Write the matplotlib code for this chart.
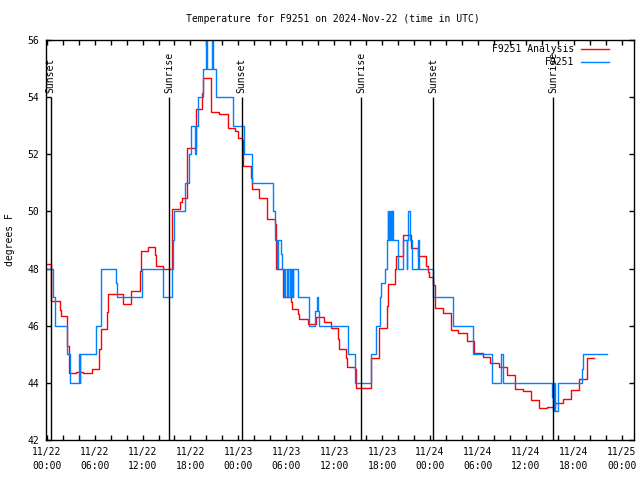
import numpy as np
import pandas as pd
import matplotlib
matplotlib.use("Agg")
import matplotlib.pyplot as plt
from matplotlib.ticker import MultipleLocator, FixedLocator

# hodiny od 2024-11-22 00:00 UTC
an_h = [0.00, 0.58, 1.63, 1.75, 2.58, 2.76, 3.63, 4.58, 5.64, 6.55, 6.76, 7.59, 7.71,
        9.56, 10.59, 11.68, 11.77, 12.69, 13.56, 13.69, 14.60, 15.65, 16.69, 16.91,
        17.61, 18.70, 19.49, 19.61, 20.58, 21.62, 22.67, 23.58, 23.92, 24.42, 24.62,
        25.55, 25.67, 26.62, 27.63, 28.59, 28.68, 29.55, 30.56, 30.68, 31.51, 31.63,
        32.69, 33.73, 34.77, 35.57, 36.52, 36.64, 37.48, 37.61, 38.61, 38.70, 40.61,
        41.65, 42.58, 42.70, 43.62, 43.71, 44.66, 45.59, 46.54, 47.51, 47.72, 47.88,
        48.42, 48.63, 49.59, 50.60, 51.55, 52.60, 53.51, 54.60, 55.52, 56.64, 57.60,
        58.64, 59.68, 60.64, 61.68, 62.68, 63.65, 64.62, 65.66, 66.66, 67.62, 68.57]
an_t = [48.15, 46.86, 46.55, 46.34, 45.3, 44.33, 44.37, 44.33, 44.5, 45.2, 45.88, 46.49, 47.1,
        46.76, 47.2, 47.91, 48.6, 48.74, 48.47, 48.09, 48.0, 50.07, 50.34, 50.46,
        52.21, 53.57, 54.13, 54.68, 53.49, 53.41, 52.91, 52.8, 52.56, 52.5, 51.59,
        51.16, 50.77, 50.48, 49.72, 49.56, 47.97, 47.02, 46.84, 46.57, 46.41, 46.22,
        46.06, 46.29, 46.12, 45.91, 45.52, 45.17, 44.86, 44.54, 44.47, 43.83, 44.86,
        45.91, 46.69, 47.45, 47.97, 48.44, 49.17, 48.71, 48.44, 48.09, 47.89, 47.69,
        47.42, 46.61, 46.43, 45.85, 45.73, 45.46, 45.03, 44.92, 44.68, 44.57, 44.27,
        43.78, 43.71, 43.4, 43.12, 43.15, 43.28, 43.42, 43.75, 44.12, 44.86, 44.86]

obs_h = [0.0, 0.79, 1.06, 2.60, 2.92, 4.05, 4.13, 4.23, 6.11, 6.74, 6.86, 8.62, 8.74,
         11.97, 14.60, 15.65, 15.78, 15.94, 17.32, 17.86, 18.03, 18.57, 18.70, 18.99,
         19.61, 19.95, 20.08, 20.64, 20.83, 21.20, 23.37, 24.75, 25.75, 28.38, 28.59,
         28.80, 28.93, 29.31, 29.43, 29.66, 29.84, 30.06, 30.18, 30.41, 30.51, 30.59,
         30.72, 30.81, 30.88, 31.51, 32.85, 33.60, 33.81, 34.01, 34.10, 37.70, 38.61,
         40.61, 41.20, 41.74, 41.87, 42.37, 42.58, 42.70, 42.80, 42.91, 42.99, 43.08,
         43.18, 43.28, 43.41, 43.96, 44.66, 45.08, 45.16, 45.29, 45.50, 45.71, 46.54,
         46.66, 48.42, 50.92, 53.35, 55.73, 56.90, 57.11, 63.24, 63.41, 63.53, 63.66,
         63.99, 64.07, 67.00, 67.13, 70.13]
obs_t = [48, 47, 46, 45, 44, 45, 44, 45, 46, 47.5, 48, 47.5, 47,
         48, 47, 48, 49, 50, 51, 52, 53, 52, 53, 54,
         55, 57, 55, 57, 55, 54, 53, 52, 51, 50, 49,
         48, 49, 48.5, 48, 47, 48, 47, 48, 47, 48, 47,
         48, 47, 48, 47, 46, 46.5, 47, 46.5, 46, 45, 44,
         45, 46, 47, 47.5, 48, 49, 50, 49, 50, 49, 50,
         49, 50, 49, 48, 49, 48, 49, 50, 49, 48, 49,
         48, 47, 46, 45, 44, 45, 44, 43.5, 43, 44, 43,
         43.5, 44, 44.5, 45, 45]

sun_h = [0.5, 15.36, 24.4, 39.4, 48.4, 63.45]
sun_lbl = ["Sunset", "Sunrise", "Sunset", "Sunrise", "Sunset", "Sunrise"]

start = pd.Timestamp("2024-11-22 00:00")
tick_h = list(range(0, 73, 6))
tick_lbl = [(start + pd.Timedelta(hours=h)).strftime("%m/%d\n%H:%M") for h in tick_h]

font = "DejaVu Sans Mono"
plt.rcParams["font.family"] = font
plt.rcParams["font.size"] = 7

fig = plt.figure(figsize=(6.4, 4.8), dpi=100)
ax = fig.add_axes([46 / 640, 40 / 480, 588 / 640, 400 / 480])

ax.plot(an_h, an_t, drawstyle="steps-post", color="#ff0000", lw=1.0, label="F9251 Analysis")
ax.plot(obs_h, obs_t, drawstyle="steps-post", color="#0080ff", lw=1.0, label="F9251")

for h, lbl in zip(sun_h, sun_lbl):
    ax.vlines(h, 42, 54, color="black", lw=1.0)
    ax.text(h, 54.15, lbl, rotation=90, ha="center", va="bottom", fontsize=7)

ax.set_xlim(-0.09, 73.55)
ax.set_ylim(42, 56)
ax.xaxis.set_major_locator(FixedLocator(tick_h))
ax.set_xticks(tick_h)
ax.set_xticklabels(tick_lbl, linespacing=1.5)
ax.xaxis.set_minor_locator(MultipleLocator(2))
ax.yaxis.set_major_locator(MultipleLocator(2))
ax.tick_params(which="both", direction="in", top=True, right=True, length=3.5, width=1, pad=5)

for s in ax.spines.values():
    s.set_linewidth(1)

ax.legend(loc="upper right", bbox_to_anchor=(609 / 640, 1 - 44 / 480),
          bbox_transform=fig.transFigure, frameon=False, markerfirst=False,
          borderpad=0, borderaxespad=0, handlelength=2.9, handletextpad=0.7,
          labelspacing=0.35, fontsize=7)

fig.text(333 / 640, 1 - 19 / 480, "Temperature for F9251 on 2024-Nov-22 (time in UTC)",
         ha="center", va="center", fontsize=7)
fig.text(10 / 640, 0.5, "degrees F", rotation=90, ha="center", va="center", fontsize=7)

fig.savefig("out.png", dpi=100)
